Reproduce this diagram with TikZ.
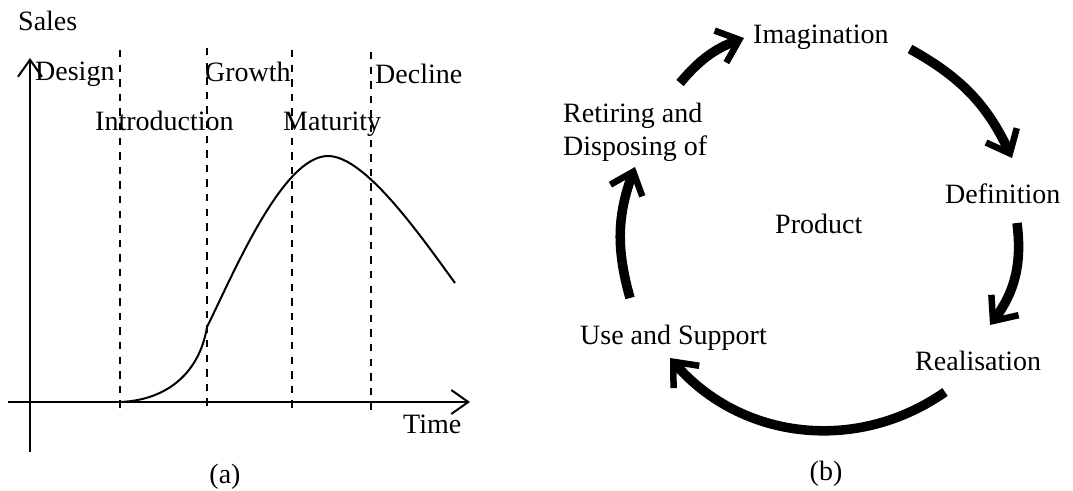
\documentclass[tikz,border=0pt]{standalone}
\usepackage{fontspec}
\setmainfont{Liberation Serif}
\usetikzlibrary{arrows.meta}
\begin{document}
\begin{tikzpicture}[x=1pt,y=1pt,
  lbl/.style={font=\fontsize{28}{32}\selectfont, inner sep=0pt, anchor=base west},
  captxt/.style={font=\fontsize{28}{32}\selectfont, inner sep=0pt, anchor=base},
  axis/.style={line width=2pt, -{Straight Barb[length=17pt,width=24pt]}},
  phase/.style={line width=2.6pt, dash pattern=on 7.3pt off 7.3pt},
  curve/.style={line width=2pt},
  cyc/.style={line width=9.5pt, -{Straight Barb[length=20pt,width=34pt,line width=6.5pt]}}]
\useasboundingbox (0,0) rectangle (1073,-490);
% ---------- (a) ----------
\coordinate (yb) at (30,-452);
\coordinate (yt) at (30,-58);
\coordinate (xl) at (8,-402);
\coordinate (xr) at (470,-402);
\draw[axis] (yb) -- (yt);
\draw[axis] (xl) -- (xr);
\foreach \n/\x/\t/\b in {d1/120/50/415, d2/207/48/412, d3/292/50/413, d4/371/52/415}{
  \coordinate (\n t) at (\x,-\t);
  \coordinate (\n b) at (\x,-\b);
  \draw[phase] (\n t) -- (\n b);
}
\coordinate (c0) at (120,-402);
\coordinate (c1) at (207,-327);
\coordinate (c2) at (328,-156);
\coordinate (c3) at (455,-283);
\draw[curve] (c0) .. controls (170,-400) and (200,-370) .. (c1)
  .. controls (235,-270) and (283,-156) .. (c2)
  .. controls (365,-156) and (420,-235) .. (c3);
\node[lbl] (sales) at (18,-30) {Sales};
\node[lbl] (design) at (35,-80) {Design};
\node[lbl] (growth) at (205,-81) {Growth};
\node[lbl] (decline) at (375,-83) {Decline};
\node[lbl] (intro) at (95,-130) {Introduction};
\node[lbl] (matur) at (283,-130) {Maturity};
\node[lbl] (time) at (403,-433) {Time};
\node[captxt] (capa) at (225,-483) {(a)};
% ---------- (b) ----------
\node[lbl] (imag) at (753,-43) {Imagination};
\node[lbl] (ret1) at (563,-122) {Retiring and};
\node[lbl] (ret2) at (563,-155) {Disposing of};
\node[lbl] (defn) at (945,-203) {Definition};
\node[lbl] (prod) at (775,-233) {Product};
\node[lbl] (use) at (580,-344) {Use and Support};
\node[lbl] (real) at (915,-370) {Realisation};
\node[captxt] (capb) at (826,-480) {(b)};
\coordinate (a1s) at (680,-83);  \coordinate (a1e) at (744,-38);
\coordinate (a2s) at (910,-49);  \coordinate (a2e) at (1012,-158);
\coordinate (a3s) at (1017,-223); \coordinate (a3e) at (990,-325);
\coordinate (a4s) at (945,-392); \coordinate (a4e) at (670,-358);
\coordinate (a5s) at (630,-298); \coordinate (a5e) at (635,-167);
\draw[cyc] (a1s) to[bend left=15] (a1e);
\draw[cyc] (a2s) to[bend left=18] (a2e);
\draw[cyc] (a3s) to[bend left=22] (a3e);
\draw[cyc] (a4s) to[bend left=42] (a4e);
\draw[cyc] (a5s) to[bend left=18] (a5e);
\end{tikzpicture}
\end{document}
